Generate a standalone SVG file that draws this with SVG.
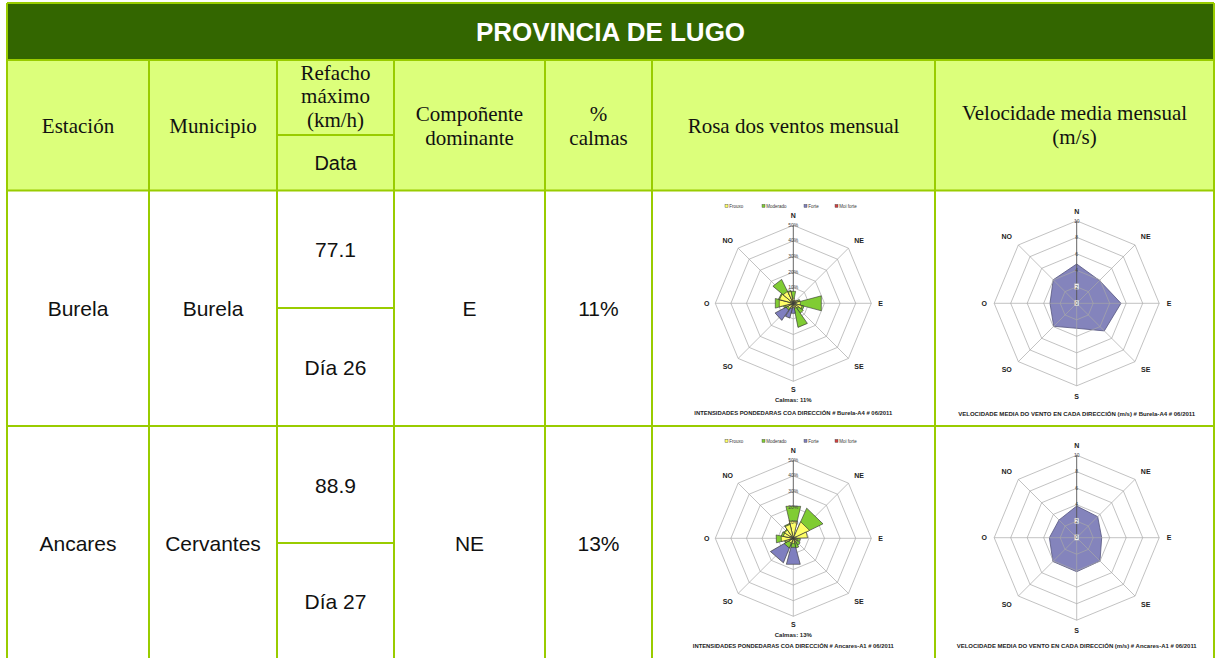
<svg xmlns="http://www.w3.org/2000/svg" xmlns:xlink="http://www.w3.org/1999/xlink" width="1217" height="658" viewBox="0 0 1217 658">
<style>
.ln{stroke:#99CC00;stroke-width:2;fill:none}
.hd{font-family:"Liberation Serif","Times New Roman",serif;font-size:21px;fill:#111;text-anchor:middle}
.dt{font-family:"Liberation Sans",Arial,sans-serif;font-size:21px;fill:#111;text-anchor:middle}
.tt{font-family:"Liberation Sans",Arial,sans-serif;font-size:26px;font-weight:bold;fill:#fff;text-anchor:middle}
.grid{fill:none;stroke:#A8A8A8;stroke-width:0.7}
.axis{stroke:#555;stroke-width:0.9}
.dir{font-family:"Liberation Sans",Arial,sans-serif;font-size:7px;font-weight:bold;fill:#222;text-anchor:middle}
.rl{font-family:"Liberation Sans",Arial,sans-serif;font-size:5px;fill:#444;text-anchor:middle}
.lg{font-family:"Liberation Sans",Arial,sans-serif;font-size:4.5px;fill:#333}
.cal{font-family:"Liberation Sans",Arial,sans-serif;font-size:6px;font-weight:bold;fill:#222;text-anchor:middle}
.ctt{font-family:"Liberation Sans",Arial,sans-serif;font-size:5.5px;font-weight:bold;fill:#222;text-anchor:middle}
.y{fill:#FFFF66;stroke:#333;stroke-width:0.6;stroke-linejoin:round}
.g{fill:#80CC33;stroke:#333;stroke-width:0.6;stroke-linejoin:round}
.f{fill:#7F7FBF;stroke:#333;stroke-width:0.6;stroke-linejoin:round}
.vp{fill:#8484BC;stroke:#55557F;stroke-width:0.8}
</style>
<defs>
<g id="roseGrid">
<polygon class="grid" points="0,-15.6 11.03,-11.03 15.6,0 11.03,11.03 0,15.6 -11.03,11.03 -15.6,0 -11.03,-11.03"/>
<polygon class="grid" points="0,-31.2 22.06,-22.06 31.2,0 22.06,22.06 0,31.2 -22.06,22.06 -31.2,0 -22.06,-22.06"/>
<polygon class="grid" points="0,-46.8 33.09,-33.09 46.8,0 33.09,33.09 0,46.8 -33.09,33.09 -46.8,0 -33.09,-33.09"/>
<polygon class="grid" points="0,-62.4 44.12,-44.12 62.4,0 44.12,44.12 0,62.4 -44.12,44.12 -62.4,0 -44.12,-44.12"/>
<polygon class="grid" points="0,-78 55.15,-55.15 78,0 55.15,55.15 0,78 -55.15,55.15 -78,0 -55.15,-55.15"/>
<path class="grid" d="M0,0L55.15,-55.15M0,0L78,0M0,0L55.15,55.15M0,0L0,78M0,0L-55.15,55.15M0,0L-78,0M0,0L-55.15,-55.15"/>
<line class="axis" x1="0" y1="0" x2="0" y2="-78"/>
</g>
<g id="roseLabels">
<text class="rl" x="0" y="-76.5">50%</text>
<text class="rl" x="0" y="-61">40%</text>
<text class="rl" x="0" y="-45.3">30%</text>
<text class="rl" x="0" y="-29.7">20%</text>
<text class="rl" x="0" y="-14">10%</text>
<text class="rl" x="0" y="1.6">0%</text>
<text class="dir" x="0" y="-85">N</text>
<text class="dir" x="-65.6" y="-60.8">NO</text>
<text class="dir" x="65.7" y="-60.8">NE</text>
<text class="dir" x="-86.6" y="2.5">O</text>
<text class="dir" x="87.4" y="2.5">E</text>
<text class="dir" x="-65.6" y="65.9">SO</text>
<text class="dir" x="65.7" y="65.9">SE</text>
<text class="dir" x="0" y="89.2">S</text>
<rect x="-68.3" y="-98.9" width="3" height="3" fill="#FFFF66" stroke="#444" stroke-width="0.4"/>
<text class="lg" x="-64" y="-95.8">Frouxo</text>
<rect x="-31.3" y="-98.9" width="3" height="3" fill="#80CC33" stroke="#444" stroke-width="0.4"/>
<text class="lg" x="-27" y="-95.8">Moderado</text>
<rect x="10.7" y="-98.9" width="3" height="3" fill="#7F7FBF" stroke="#444" stroke-width="0.4"/>
<text class="lg" x="15" y="-95.8">Forte</text>
<rect x="41.7" y="-98.9" width="3" height="3" fill="#D04040" stroke="#444" stroke-width="0.4"/>
<text class="lg" x="46" y="-95.8">Moi forte</text>
</g>
<g id="velGrid">
<polygon class="grid" points="0,-16.5 11.67,-11.67 16.5,0 11.67,11.67 0,16.5 -11.67,11.67 -16.5,0 -11.67,-11.67"/>
<polygon class="grid" points="0,-33 23.33,-23.33 33,0 23.33,23.33 0,33 -23.33,23.33 -33,0 -23.33,-23.33"/>
<polygon class="grid" points="0,-49.5 35,-35 49.5,0 35,35 0,49.5 -35,35 -49.5,0 -35,-35"/>
<polygon class="grid" points="0,-66 46.67,-46.67 66,0 46.67,46.67 0,66 -46.67,46.67 -66,0 -46.67,-46.67"/>
<polygon class="grid" points="0,-82.5 58.34,-58.34 82.5,0 58.34,58.34 0,82.5 -58.34,58.34 -82.5,0 -58.34,-58.34"/>
<path class="grid" d="M0,0L58.34,-58.34M0,0L82.5,0M0,0L58.34,58.34M0,0L0,82.5M0,0L-58.34,58.34M0,0L-82.5,0M0,0L-58.34,-58.34"/>
<line class="axis" x1="0" y1="0" x2="0" y2="-82.5"/>
<text class="rl" x="0" y="-80.8">10</text>
<text class="rl" x="0" y="-64.3">8</text>
<text class="rl" x="0" y="-47.8">6</text>
<text class="rl" x="0" y="-31.3">4</text>
<rect x="-2.2" y="-19.6" width="4.4" height="5.6" fill="#eee" stroke="#aaa" stroke-width="0.3"/>
<text class="rl" x="0" y="-14.8">2</text>
<rect x="-2.2" y="-3.1" width="4.4" height="5.6" fill="#eee" stroke="#aaa" stroke-width="0.3"/>
<text class="rl" x="0" y="1.7">0</text>
<text class="dir" x="0" y="-89.5">N</text>
<text class="dir" x="-70" y="-64">NO</text>
<text class="dir" x="69" y="-64">NE</text>
<text class="dir" x="-92.5" y="2.5">O</text>
<text class="dir" x="92.5" y="2.5">E</text>
<text class="dir" x="-70" y="69">SO</text>
<text class="dir" x="69" y="69">SE</text>
<text class="dir" x="0" y="95.5">S</text>
</g>
</defs>

<g id="table">
<rect x="7" y="3" width="1207" height="57" fill="#336600"/>
<rect x="7" y="60" width="1207" height="130" fill="#DCFF7B"/>
<rect x="7" y="190" width="1207" height="468" fill="#ffffff"/>
<path class="ln" d="M7,3H1214M7,60H1214M7,190.5H1214M7,426H1214M277,135H394M277,308H394M277,543H394M7,3V658M1214,3V658M149,60V658M277,60V658M394,60V658M545,60V658M652,60V658M935,60V658"/>
</g>

<g id="title"><text class="tt" x="610.5" y="41">PROVINCIA DE LUGO</text></g>

<g id="header">
<text class="hd" x="78" y="133">Estación</text>
<text class="hd" x="213" y="133">Municipio</text>
<text class="hd" x="335.5" y="80">Refacho</text>
<text class="hd" x="335.5" y="103">máximo</text>
<text class="hd" x="335.5" y="127">(km/h)</text>
<text class="dt" x="335.5" y="170" style="font-size:20px">Data</text>
<text class="hd" x="469.5" y="121">Compoñente</text>
<text class="hd" x="469.5" y="145">dominante</text>
<text class="hd" x="598.5" y="121">%</text>
<text class="hd" x="598.5" y="145">calmas</text>
<text class="hd" x="793.5" y="133">Rosa dos ventos mensual</text>
<text class="hd" x="1074.5" y="120">Velocidade media mensual</text>
<text class="hd" x="1074.5" y="144">(m/s)</text>
</g>

<g id="row-burela">
<text class="dt" x="78" y="316">Burela</text>
<text class="dt" x="213" y="316">Burela</text>
<text class="dt" x="335.5" y="257">77.1</text>
<text class="dt" x="335.5" y="375">Día 26</text>
<text class="dt" x="469.5" y="316">E</text>
<text class="dt" x="598.5" y="316">11%</text>
</g>

<g id="rose-burela" transform="translate(793.3,303.3)">
<use xlink:href="#roseGrid" href="#roseGrid"/>
<g>
<polygon class="g" points="0,0 -2.33,-12 2.33,-12"/><polygon class="y" points="0,0 -0.97,-5 0.97,-5"/>
<polygon class="y" transform="rotate(22.5)" points="0,0 -0.58,-3 0.58,-3"/>
<polygon class="y" transform="rotate(45)" points="0,0 -0.78,-4 0.78,-4"/>
<g transform="rotate(66)"><polygon class="g" points="0,0 -1.11,-7 1.11,-7"/><polygon class="y" points="0,0 -0.79,-5 0.79,-5"/></g>
<g transform="rotate(90)"><polygon class="g" points="0,0 -7.5,-28 7.5,-28"/><polygon class="y" points="0,0 -1.88,-7 1.88,-7"/></g>
<g transform="rotate(115)"><polygon class="g" points="0,0 -1.94,-11 1.94,-11"/><polygon class="y" points="0,0 -1.59,-9 1.59,-9"/></g>
<g transform="rotate(135)"><polygon class="g" points="0,0 -2.12,-12 2.12,-12"/><polygon class="y" points="0,0 -1.06,-6 1.06,-6"/></g>
<g transform="rotate(157)"><polygon class="g" points="0,0 -5.1,-24 5.1,-24"/><polygon class="y" points="0,0 -1.06,-5 1.06,-5"/></g>
<g transform="rotate(180)"><polygon class="f" points="0,0 -1.94,-10 1.94,-10"/><polygon class="y" points="0,0 -0.78,-4 0.78,-4"/></g>
<g transform="rotate(202)"><polygon class="f" points="0,0 -2.38,-15 2.38,-15"/><polygon class="y" points="0,0 -0.79,-5 0.79,-5"/></g>
<g transform="rotate(228)"><polygon class="f" points="0,0 -4.99,-20 4.99,-20"/><polygon class="g" points="0,0 -1.99,-8 1.99,-8"/><polygon class="y" points="0,0 -1.5,-6 1.5,-6"/></g>
<g transform="rotate(249)"><polygon class="g" points="0,0 -1.23,-10 1.23,-10"/><polygon class="y" points="0,0 -0.98,-8 0.98,-8"/></g>
<g transform="rotate(270)"><polygon class="g" points="0,0 -4.82,-18 4.82,-18"/><polygon class="y" points="0,0 -3.48,-14 3.48,-14"/></g>
<g transform="rotate(297.5)"><polygon class="g" points="0,0 -3.33,-15 3.33,-15"/><polygon class="y" points="0,0 -3.1,-14 3.1,-14"/></g>
<g transform="rotate(322)"><polygon class="g" points="0,0 -5.53,-26 5.53,-26"/><polygon class="y" points="0,0 -2.76,-13 2.76,-13"/></g>
<g transform="rotate(342)"><polygon class="g" points="0,0 -1.6,-13 1.6,-13"/><polygon class="y" points="0,0 -1.47,-12 1.47,-12"/></g>
</g>
<use xlink:href="#roseLabels" href="#roseLabels"/>
<text class="cal" x="0" y="98.8">Calmas: 11%</text>
<text class="ctt" x="0" y="111.5" textLength="198" lengthAdjust="spacingAndGlyphs">INTENSIDADES PONDEDARAS COA DIRECCIÓN # Burela-A4 # 06/2011</text>
</g>

<g id="vel-burela" transform="translate(1076.7,303.3)">
<polygon class="vp" points="0,-39.3 22.8,-22.8 44.3,0 27.6,27.6 0,25 -23,23 -26.7,0 -23.5,-23.5"/>
<use xlink:href="#velGrid" href="#velGrid"/>
<text class="ctt" x="0" y="112.5" textLength="237" lengthAdjust="spacingAndGlyphs">VELOCIDADE MEDIA DO VENTO EN CADA DIRECCIÓN (m/s) # Burela-A4 # 06/2011</text>
</g>

<g id="row-ancares">
<text class="dt" x="78" y="551">Ancares</text>
<text class="dt" x="213" y="551">Cervantes</text>
<text class="dt" x="335.5" y="493">88.9</text>
<text class="dt" x="335.5" y="609">Día 27</text>
<text class="dt" x="469.5" y="551">NE</text>
<text class="dt" x="598.5" y="551">13%</text>
</g>

<g id="rose-ancares" transform="translate(793.3,538.3)">
<use xlink:href="#roseGrid" href="#roseGrid"/>
<g>
<polygon class="g" points="0,0 -7.39,-32 7.39,-32"/><polygon class="y" points="0,0 -3.93,-17 3.93,-17"/>
<g transform="rotate(44)"><polygon class="g" points="0,0 -11.3,-31 11.3,-31"/><polygon class="y" points="0,0 -6.2,-17 6.2,-17"/></g>
<polygon class="y" transform="rotate(76)" points="0,0 -2.98,-14 2.98,-14"/>
<g transform="rotate(105)"><polygon class="g" points="0,0 -1.49,-7 1.49,-7"/><polygon class="y" points="0,0 -0.85,-4 0.85,-4"/></g>
<g transform="rotate(135)"><polygon class="g" points="0,0 -1.7,-8 1.7,-8"/><polygon class="y" points="0,0 -0.85,-4 0.85,-4"/></g>
<g transform="rotate(157)"><polygon class="g" points="0,0 -1.76,-10 1.76,-10"/><polygon class="y" points="0,0 -0.88,-5 0.88,-5"/></g>
<g transform="rotate(180)"><polygon class="f" points="0,0 -6.97,-26 6.97,-26"/><polygon class="g" points="0,0 -2.41,-9 2.41,-9"/><polygon class="y" points="0,0 -1.34,-5 1.34,-5"/></g>
<g transform="rotate(221)"><polygon class="f" points="0,0 -8.61,-25 8.61,-25"/><polygon class="g" points="0,0 -3.44,-10 3.44,-10"/><polygon class="y" points="0,0 -1.72,-5 1.72,-5"/></g>
<g transform="rotate(248)"><polygon class="g" points="0,0 -1.1,-9 1.1,-9"/><polygon class="y" points="0,0 -0.98,-8 0.98,-8"/></g>
<g transform="rotate(268)"><polygon class="g" points="0,0 -3.93,-17 3.93,-17"/><polygon class="y" points="0,0 -2.77,-12 2.77,-12"/></g>
<g transform="rotate(292)"><polygon class="g" points="0,0 -2.33,-12 2.33,-12"/><polygon class="y" points="0,0 -1.94,-10 1.94,-10"/></g>
<g transform="rotate(314)"><polygon class="g" points="0,0 -2.34,-11 2.34,-11"/><polygon class="y" points="0,0 -2.13,-10 2.13,-10"/></g>
<g transform="rotate(336)"><polygon class="g" points="0,0 -2.92,-15 2.92,-15"/><polygon class="y" points="0,0 -2.72,-14 2.72,-14"/></g>
</g>
<use xlink:href="#roseLabels" href="#roseLabels"/>
<text class="cal" x="0" y="98.8">Calmas: 13%</text>
<text class="ctt" x="0" y="109.3" textLength="201" lengthAdjust="spacingAndGlyphs">INTENSIDADES PONDEDARAS COA DIRECCIÓN # Ancares-A1 # 06/2011</text>
</g>

<g id="vel-ancares" transform="translate(1076.7,537.7)">
<polygon class="vp" points="0,-31.7 21,-21 25,0 23.3,23.3 0,34 -23.8,23.8 -27.3,0 -17.7,-17.7"/>
<use xlink:href="#velGrid" href="#velGrid"/>
<text class="ctt" x="0" y="110" textLength="240" lengthAdjust="spacingAndGlyphs">VELOCIDADE MEDIA DO VENTO EN CADA DIRECCIÓN (m/s) # Ancares-A1 # 06/2011</text>
</g>
</svg>
